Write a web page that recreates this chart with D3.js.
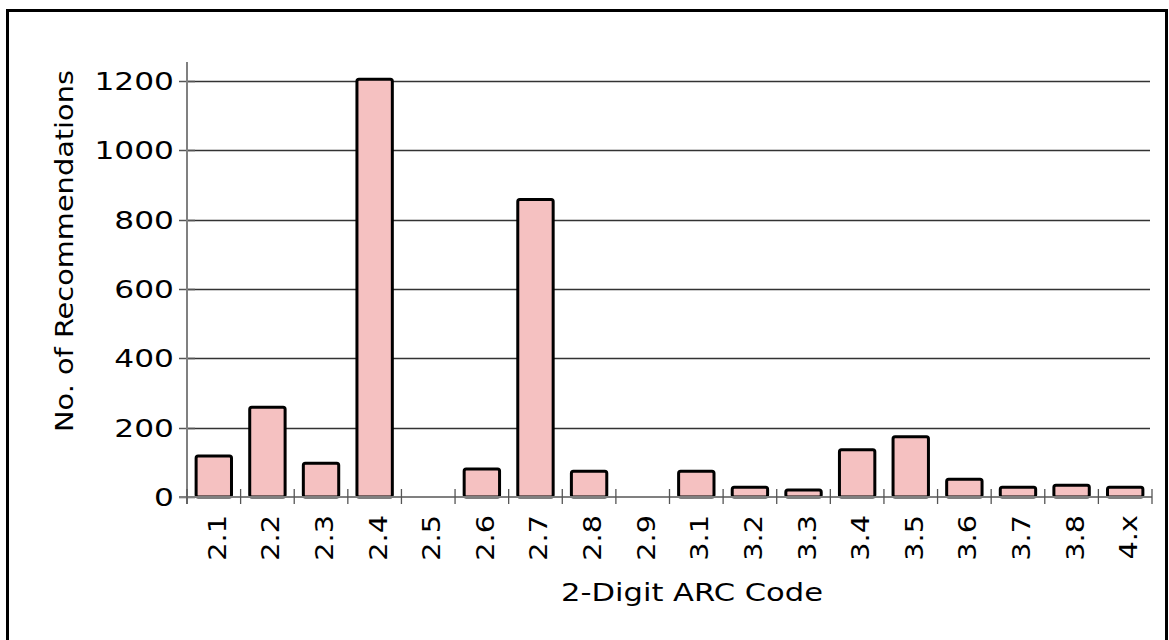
<!DOCTYPE html>
<html>
<head>
<meta charset="utf-8">
<script src="https://cdn.jsdelivr.net/npm/d3@7"></script>
<style>
  html, body { margin: 0; padding: 0; background: #fff; }
  svg { display: block; }
  text { font-family: "DejaVu Sans", Verdana, sans-serif; fill: #000; }
</style>
</head>
<body>
<svg id="chart" width="1169" height="640"></svg>
<script>
const categories = ["2.1","2.2","2.3","2.4","2.5","2.6","2.7","2.8","2.9","3.1","3.2","3.3","3.4","3.5","3.6","3.7","3.8","4.x"];
const values = [118, 259, 97, 1205, 0, 81, 858, 74, 0, 74, 28, 20, 136, 174, 51, 28, 34, 28];
const yTicks = [0, 200, 400, 600, 800, 1000, 1200];
const xTitle = "2-Digit ARC Code";
const yTitle = "No. of Recommendations";

const svg = d3.select("#chart");
const left = 187, right = 1152, base = 497, top1200 = 81, axisTop = 62;
const stretch = 1.25;

const x = d3.scaleBand().domain(categories).range([left, right]).paddingInner(0.34).paddingOuter(0.17);
const y = d3.scaleLinear().domain([0, 1200]).range([base, top1200]);
const step = x.step();

function stretchText(sel, factor) {
  sel.each(function() {
    const n = this.getComputedTextLength();
    d3.select(this).attr("textLength", n * factor).attr("lengthAdjust", "spacingAndGlyphs");
  });
}

// outer border
svg.append("rect").attr("x", 7.5).attr("y", 10.5).attr("width", 1159).attr("height", 700)
  .attr("fill", "none").attr("stroke", "#000").attr("stroke-width", 3);

// gridlines
svg.append("g").selectAll("line").data(yTicks.filter(d => d > 0)).join("line")
  .attr("x1", left).attr("x2", 1150)
  .attr("y1", d => Math.round(y(d)) + 0.5).attr("y2", d => Math.round(y(d)) + 0.5)
  .attr("stroke", "#333").attr("stroke-width", 1.3);

// y tick marks
svg.append("g").selectAll("line").data(yTicks).join("line")
  .attr("x1", 179).attr("x2", 195)
  .attr("y1", d => Math.round(y(d)) + 0.5).attr("y2", d => Math.round(y(d)) + 0.5)
  .attr("stroke", "#555").attr("stroke-width", 1.5);

// y tick labels
svg.append("g").selectAll("text").data(yTicks).join("text")
  .attr("x", 174).attr("y", d => y(d) + 9)
  .attr("text-anchor", "end").attr("font-size", 25)
  .text(d => d)
  .call(stretchText, stretch);

// bars
svg.append("g").selectAll("rect").data(categories.map((c, i) => ({c, v: values[i]})).filter(d => d.v > 0)).join("rect")
  .attr("x", d => x(d.c)).attr("width", x.bandwidth())
  .attr("y", d => y(d.v)).attr("height", d => y(0) - y(d.v))
  .attr("rx", 2)
  .attr("fill", "#f5c1c1").attr("stroke", "#000").attr("stroke-width", 3);

// y axis line
svg.append("line").attr("x1", left).attr("x2", left).attr("y1", axisTop).attr("y2", 504)
  .attr("stroke", "#808080").attr("stroke-width", 2);

// x axis line
svg.append("line").attr("x1", 179).attr("x2", right).attr("y1", base).attr("y2", base)
  .attr("stroke", "#808080").attr("stroke-width", 2);

// x category tick marks at band boundaries
svg.append("g").selectAll("line").data(d3.range(categories.length + 1)).join("line")
  .attr("x1", i => left + i * step).attr("x2", i => left + i * step)
  .attr("y1", 489).attr("y2", 504)
  .attr("stroke", "#555").attr("stroke-width", 1.3);

// x tick labels (rotated)
svg.append("g").selectAll("text").data(categories).join("text")
  .attr("transform", d => `translate(${x(d) + x.bandwidth() / 2 + 12},515) rotate(-90)`)
  .attr("text-anchor", "end").attr("font-size", 25)
  .text(d => d)
  .call(stretchText, 1.15);

// x title
svg.append("text").attr("x", 692).attr("y", 601).attr("text-anchor", "middle").attr("font-size", 25)
  .text(xTitle)
  .attr("textLength", 262).attr("lengthAdjust", "spacingAndGlyphs");

// y title
svg.append("text").attr("transform", "translate(73,251) rotate(-90)").attr("text-anchor", "middle").attr("font-size", 25)
  .text(yTitle)
  .attr("textLength", 362).attr("lengthAdjust", "spacingAndGlyphs");
</script>
</body>
</html>
